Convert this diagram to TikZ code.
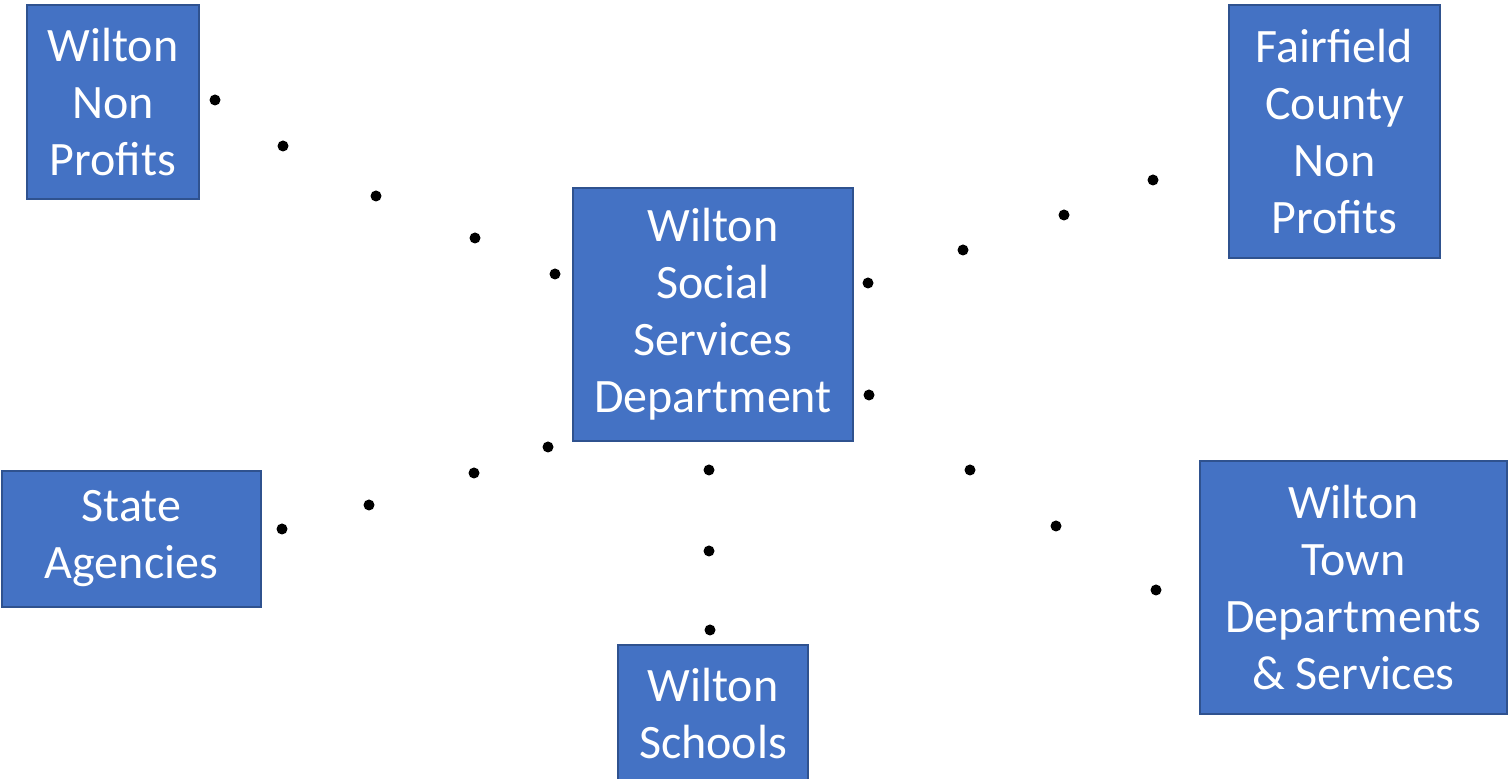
\documentclass[tikz,border=0pt]{standalone}
\usepackage{fontspec}
\setmainfont{Carlito}
\usepackage{tikz}
\definecolor{boxblue}{HTML}{4472C4}
\definecolor{boxedge}{HTML}{2F528F}

\begin{document}
\begin{tikzpicture}[x=0.5pt,y=-0.5pt,
		orgbox/.style={rectangle,draw=boxedge,fill=boxblue,line width=1pt,
			text=white,align=center,inner sep=0pt,
			font=\fontsize{24}{28.5}\selectfont},
		smalldot/.style={circle,fill=black,inner sep=0pt,minimum size=5.5pt}
		]
		\useasboundingbox (0,0) rectangle (1512,779);
		
		\node[orgbox, minimum width=140pt, minimum height=126.5pt](WSS) at (713,314.5){Wilton\\Social\\Services\\Department};
		\node[orgbox, minimum width=86pt, minimum height=97pt](WNP) at (113,102){Wilton\\Non\\Profits};
		\node[orgbox, minimum width=105.5pt, minimum height=126.5pt](FCNP) at (1334.5,131.5){Fairfield\\County\\Non\\Profits};
		\node[orgbox, minimum width=129.5pt, minimum height=68pt](SA) at (131.5,539){State\\Agencies};
		\node[orgbox, minimum width=95pt, minimum height=69pt](WS) at (713,714){Wilton\\Schools};
		\node[orgbox, minimum width=153.5pt, minimum height=126.5pt](WTDS) at (1353.5,587.5){Wilton\\Town\\Departments\\\& Services};
		
		% dotted links
		\foreach \p in {(215,100),(283,146),(376,196),(475,238),(555,274),
			(868,283),(963,250),(1064,215),(1153,180),
			(282,529),(369,505),(474,473),(548,447),
			(709,470),(709,551),(710,630),
			(869,395),(970,470),(1056,526),(1156,590)}
		\node[smalldot] at \p {};
	\end{tikzpicture}
\end{document}
